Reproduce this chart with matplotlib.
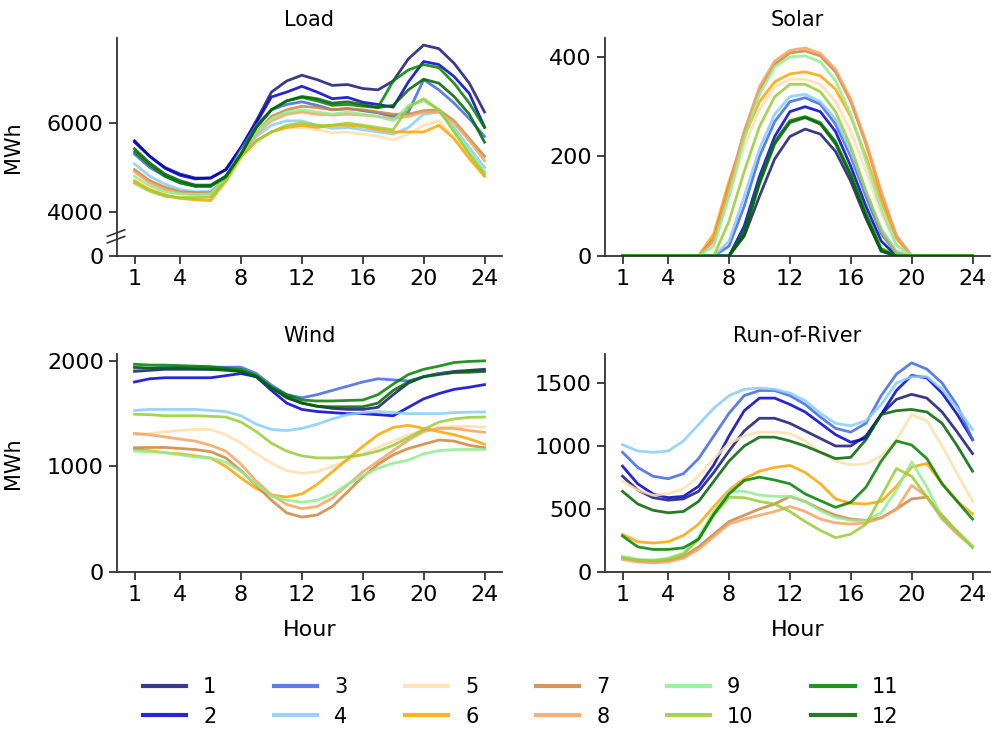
import matplotlib
matplotlib.use("Agg")
import matplotlib.pyplot as plt
from matplotlib.lines import Line2D

plt.rcParams['font.family'] = ['DejaVu Sans']

hours = list(range(1, 25))
months = [str(m) for m in range(1, 13)]
month_colors = ['#191970', '#0000CD', '#4169E1', '#87CEFA', '#FFDEAD', '#FFA500',
                '#CD853F', '#F4A460', '#90EE90', '#9ACD32', '#008000', '#006400']

load = [
    [5570, 5250, 5000, 4850, 4760, 4760, 4950, 5450, 6050, 6700, 6950, 7080, 6980, 6850, 6870, 6780, 6750, 6950, 7450, 7760, 7680, 7350, 6900, 6250],
    [5600, 5250, 4980, 4820, 4740, 4760, 4950, 5450, 6000, 6590, 6700, 6830, 6700, 6550, 6580, 6470, 6420, 6360, 6930, 7390, 7320, 7050, 6670, 5910],
    [5300, 5000, 4800, 4650, 4580, 4580, 4800, 5400, 5950, 6300, 6420, 6480, 6400, 6300, 6330, 6280, 6230, 6150, 6250, 6980, 6750, 6450, 6100, 5700],
    [5080, 4800, 4620, 4500, 4450, 4460, 4700, 5300, 5700, 5950, 6050, 6050, 5950, 5880, 5900, 5850, 5800, 5750, 5900, 6200, 6250, 5900, 5450, 5000],
    [4630, 4450, 4350, 4300, 4290, 4300, 4650, 5200, 5550, 5800, 5900, 5900, 5850, 5780, 5800, 5750, 5700, 5620, 5750, 5950, 6050, 5650, 5200, 4800],
    [4700, 4500, 4380, 4300, 4270, 4250, 4700, 5250, 5600, 5800, 5900, 5950, 5900, 5950, 5950, 5920, 5850, 5800, 5800, 5800, 5950, 5650, 5200, 4800],
    [4950, 4700, 4550, 4450, 4430, 4430, 4750, 5350, 5800, 6150, 6300, 6380, 6350, 6300, 6320, 6300, 6250, 6200, 6200, 6280, 6300, 6050, 5650, 5250],
    [4900, 4650, 4500, 4420, 4400, 4400, 4720, 5300, 5750, 6050, 6200, 6250, 6200, 6180, 6200, 6180, 6150, 6100, 6150, 6250, 6250, 6000, 5600, 5150],
    [4800, 4580, 4450, 4400, 4380, 4400, 4750, 5350, 5800, 6100, 6250, 6300, 6250, 6200, 6250, 6200, 6150, 6050, 6400, 6500, 6300, 5850, 5350, 4900],
    [4650, 4470, 4350, 4320, 4320, 4330, 4700, 5250, 5600, 5800, 5950, 6000, 5950, 5950, 6000, 5950, 5900, 5850, 6350, 6550, 6300, 5800, 5300, 4850],
    [5350, 5050, 4800, 4650, 4570, 4570, 4780, 5300, 5900, 6300, 6500, 6580, 6500, 6400, 6420, 6380, 6350, 6950, 7200, 7320, 7250, 6900, 6450, 5900],
    [5420, 5100, 4850, 4700, 4600, 4600, 4800, 5300, 5900, 6300, 6500, 6600, 6550, 6450, 6480, 6420, 6350, 6400, 6750, 6990, 6900, 6600, 6200, 5570],
]

solar = [
    [0, 0, 0, 0, 0, 0, 0, 0, 40, 120, 195, 240, 255, 245, 210, 150, 75, 10, 0, 0, 0, 0, 0, 0],
    [0, 0, 0, 0, 0, 0, 0, 0, 60, 160, 240, 290, 300, 290, 250, 180, 100, 30, 0, 0, 0, 0, 0, 0],
    [0, 0, 0, 0, 0, 0, 0, 20, 100, 200, 270, 310, 318, 305, 265, 200, 120, 45, 5, 0, 0, 0, 0, 0],
    [0, 0, 0, 0, 0, 0, 0, 30, 120, 215, 285, 320, 325, 310, 275, 210, 130, 55, 10, 0, 0, 0, 0, 0],
    [0, 0, 0, 0, 0, 0, 30, 120, 220, 295, 340, 355, 355, 345, 310, 250, 170, 85, 20, 0, 0, 0, 0, 0],
    [0, 0, 0, 0, 0, 0, 45, 150, 240, 310, 350, 366, 370, 362, 335, 280, 200, 110, 35, 0, 0, 0, 0, 0],
    [0, 0, 0, 0, 0, 0, 35, 140, 250, 335, 385, 408, 412, 402, 370, 310, 225, 125, 40, 0, 0, 0, 0, 0],
    [0, 0, 0, 0, 0, 0, 30, 135, 250, 340, 392, 413, 418, 407, 375, 315, 230, 130, 40, 0, 0, 0, 0, 0],
    [0, 0, 0, 0, 0, 0, 20, 120, 235, 325, 380, 400, 402, 390, 352, 285, 190, 95, 22, 0, 0, 0, 0, 0],
    [0, 0, 0, 0, 0, 0, 0, 70, 170, 260, 320, 345, 345, 330, 290, 220, 130, 50, 5, 0, 0, 0, 0, 0],
    [0, 0, 0, 0, 0, 0, 0, 0, 50, 150, 230, 272, 280, 268, 230, 165, 85, 15, 0, 0, 0, 0, 0, 0],
    [0, 0, 0, 0, 0, 0, 0, 0, 45, 145, 225, 268, 278, 265, 225, 160, 80, 10, 0, 0, 0, 0, 0, 0],
]

wind = [
    [1900, 1910, 1920, 1920, 1920, 1920, 1920, 1900, 1850, 1750, 1650, 1600, 1570, 1550, 1540, 1540, 1560, 1680, 1790, 1850, 1880, 1900, 1910, 1920],
    [1800, 1830, 1840, 1840, 1840, 1840, 1860, 1880, 1850, 1720, 1600, 1540, 1520, 1510, 1500, 1500, 1490, 1480, 1560, 1640, 1690, 1730, 1750, 1775],
    [1930, 1930, 1940, 1940, 1940, 1940, 1940, 1940, 1880, 1770, 1680, 1650, 1680, 1720, 1760, 1800, 1830, 1820, 1810, 1850, 1880, 1890, 1890, 1900],
    [1530, 1540, 1540, 1540, 1540, 1530, 1520, 1480, 1400, 1350, 1340, 1360, 1400, 1450, 1490, 1510, 1520, 1510, 1500, 1500, 1500, 1510, 1515, 1515],
    [1300, 1310, 1330, 1340, 1350, 1350, 1300, 1220, 1120, 1030, 960, 935, 950, 1000, 1060, 1120, 1180, 1240, 1300, 1340, 1370, 1380, 1380, 1370],
    [1160, 1150, 1130, 1120, 1100, 1080, 1000, 890, 790, 730, 710, 740, 830, 950, 1070, 1190, 1300, 1370, 1390, 1360, 1330, 1300, 1260, 1210],
    [1177, 1180, 1180, 1170, 1160, 1140, 1080, 960, 820, 680, 560, 520, 540, 620, 760, 900, 1020, 1110, 1170, 1210, 1250, 1240, 1200, 1177],
    [1313, 1300, 1280, 1258, 1240, 1200, 1145, 1020, 860, 730, 640, 600, 620, 700, 823, 950, 1048, 1150, 1250, 1330, 1360, 1360, 1340, 1323],
    [1145, 1140, 1130, 1110, 1090, 1081, 1040, 952, 830, 720, 680, 661, 680, 740, 830, 910, 984, 1030, 1060, 1120, 1150, 1160, 1161, 1161],
    [1494, 1490, 1480, 1480, 1480, 1475, 1468, 1420, 1330, 1220, 1145, 1100, 1081, 1080, 1090, 1110, 1145, 1200, 1274, 1350, 1420, 1450, 1465, 1468],
    [1968, 1960, 1960, 1955, 1950, 1945, 1930, 1919, 1860, 1750, 1680, 1629, 1620, 1620, 1625, 1629, 1680, 1780, 1871, 1920, 1950, 1984, 1995, 2000],
    [1940, 1930, 1930, 1930, 1925, 1920, 1910, 1900, 1850, 1740, 1660, 1600, 1570, 1565, 1565, 1565, 1600, 1720, 1800, 1850, 1870, 1890, 1900, 1903],
]

run_of_river = [
    [760, 650, 590, 570, 580, 640, 790, 960, 1120, 1220, 1220, 1180, 1120, 1060, 1000, 1000, 1080, 1250, 1370, 1410, 1380, 1270, 1110, 940],
    [840, 700, 620, 590, 600, 680, 850, 1080, 1280, 1380, 1380, 1330, 1270, 1180, 1090, 1030, 1060, 1250, 1440, 1560, 1540, 1420, 1250, 1050],
    [950, 830, 760, 740, 780, 900, 1080, 1260, 1400, 1440, 1440, 1400, 1330, 1230, 1140, 1110, 1180, 1400, 1570, 1660, 1610, 1500, 1320, 1050],
    [1010, 960, 950, 960, 1040, 1170, 1300, 1400, 1450, 1460, 1450, 1420, 1360, 1260, 1180, 1160, 1200, 1330, 1500, 1550, 1550, 1450, 1300, 1130],
    [720, 650, 610, 620, 660, 760, 900, 1020, 1080, 1110, 1110, 1100, 1040, 950, 880, 850, 860, 920, 1050, 1250, 1200, 1000, 780, 560],
    [299, 240, 230, 240, 290, 380, 520, 650, 740, 800, 830, 846, 790, 700, 580, 545, 540, 560, 680, 834, 861, 700, 560, 460],
    [112, 90, 85, 90, 120, 200, 300, 400, 450, 500, 540, 600, 560, 500, 450, 420, 410, 430, 500, 580, 594, 450, 320, 200],
    [99, 80, 72, 80, 110, 180, 280, 380, 420, 450, 480, 520, 480, 420, 390, 380, 390, 430, 500, 687, 600, 420, 300, 200],
    [125, 100, 95, 110, 150, 280, 480, 640, 640, 610, 600, 600, 560, 486, 433, 410, 406, 470, 650, 874, 674, 433, 320, 206],
    [112, 95, 90, 100, 140, 260, 450, 593, 590, 560, 539, 480, 400, 330, 272, 300, 380, 600, 821, 760, 594, 433, 320, 193],
    [286, 200, 179, 179, 192, 260, 459, 620, 726, 753, 730, 700, 620, 566, 513, 553, 673, 880, 1040, 1008, 900, 700, 560, 420],
    [640, 540, 490, 470, 480, 560, 720, 880, 1000, 1070, 1070, 1040, 1000, 950, 900, 910, 1050, 1250, 1280, 1290, 1270, 1180, 1000, 800],
]

hour_ticks = [1, 4, 8, 12, 16, 20, 24]

panels = [
    ("Load", load, (3000, 7920), [3000, 4000, 6000], ["0", "4000", "6000"]),
    ("Solar", solar, (0, 438), [0, 200, 400], ["0", "200", "400"]),
    ("Wind", wind, (0, 2065), [0, 1000, 2000], ["0", "1000", "2000"]),
    ("Run-of-River", run_of_river, (0, 1730), [0, 500, 1000, 1500], ["0", "500", "1000", "1500"]),
]

W, H = 991, 735
fig = plt.figure(figsize=(W / 100, H / 100), dpi=100)

ax_w = 385 / W
ax_h = 218 / H
lefts = [117 / W, 605 / W]
bottoms = [1 - 256 / H, 1 - 572 / H]

FS = 16
for i, (title, data, ylim, yt, ytl) in enumerate(panels):
    r, c = divmod(i, 2)
    ax = fig.add_axes([lefts[c], bottoms[r], ax_w, ax_h])
    for m in range(12):
        ax.plot(hours, data[m], color=month_colors[m], lw=2.0, alpha=0.85)
    ax.set_ylim(*ylim)
    ax.set_xticks(hour_ticks)
    ax.set_yticks(yt)
    ax.set_yticklabels(ytl)
    ax.set_title(title, fontsize=FS - 1, pad=9)
    ax.tick_params(labelsize=FS, length=6, width=1.3, color='#333333')
    for side in ('top', 'right'):
        ax.spines[side].set_visible(False)
    for side in ('left', 'bottom'):
        ax.spines[side].set_linewidth(1.3)
        ax.spines[side].set_color('#333333')
    if c == 0:
        ax.set_ylabel("MWh", fontsize=FS - 1)
        ax.yaxis.set_label_coords(-0.245, 0.5)
    if r == 1:
        ax.set_xlabel("Hour", fontsize=FS, labelpad=11)
    if title == "Load":
        # broken-axis marks between 0 and 4000
        for yc in (0.075, 0.105):
            ax.add_line(Line2D([-0.025, 0.02], [yc - 0.015, yc + 0.015],
                               transform=ax.transAxes, color='#333333',
                               lw=1.2, clip_on=False))

handles = [Line2D([], [], color=month_colors[m], lw=3, alpha=0.85) for m in range(12)]
fig.legend(handles, months, loc='center', bbox_to_anchor=(0.525, 0.045), ncol=6,
           frameon=False, fontsize=FS - 1, handlelength=2.1, handletextpad=0.8,
           columnspacing=2.75, labelspacing=0.45)

fig.savefig("out.png", dpi=100)
